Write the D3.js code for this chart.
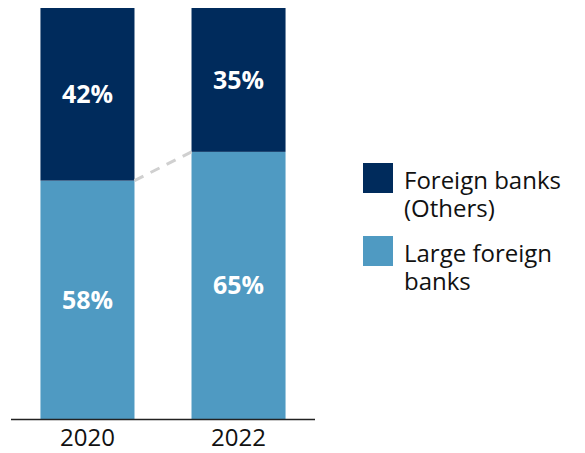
<!DOCTYPE html>
<html>
<head>
<meta charset="utf-8">
<script src="https://cdn.jsdelivr.net/npm/d3@7"></script>
<style>
    body { margin: 0; background: #fff; }
    svg { display: block; font-family: "Open Sans", sans-serif; }
</style>
</head>
<body>
<svg id="chart" width="585" height="453"></svg>
<script>
// Share of foreign bank assets, in percent.
var years = ['2020', '2022'];
var largeForeign = [58, 65];
var othersForeign = [42, 35];
var seriesNames = [['Foreign banks', '(Others)'], ['Large foreign', 'banks']];
var colors = ['#002b5c', '#4f9ac2'];

var svg = d3.select('#chart');

var x = d3.scaleBand()
    .domain(years)
    .range([11, 315])
    .paddingInner(0.3775)
    .paddingOuter(0.195);

var y = d3.scaleLinear()
    .domain([0, 100])
    .range([419, 8]);

var rows = years.map(function (year, i) {
    return { year: year, large: largeForeign[i], others: othersForeign[i] };
});

var stack = d3.stack().keys(['large', 'others'])(rows);

var layer = svg.selectAll('g.layer')
    .data(stack)
    .enter()
    .append('g')
    .attr('class', 'layer')
    .attr('fill', function (d) {
        return d.key === 'large' ? colors[1] : colors[0];
    });

layer.selectAll('rect')
    .data(function (d) { return d; })
    .enter()
    .append('rect')
    .attr('x', function (d) { return x(d.data.year); })
    .attr('width', x.bandwidth())
    .attr('y', function (d) { return y(d[1]); })
    .attr('height', function (d) { return y(d[0]) - y(d[1]); });

// Value labels in the middle of each segment.
layer.selectAll('text')
    .data(function (d) { return d; })
    .enter()
    .append('text')
    .attr('x', function (d) { return x(d.data.year) + x.bandwidth() / 2; })
    .attr('y', function (d) { return (y(d[0]) + y(d[1])) / 2; })
    .attr('dy', '0.36em')
    .attr('text-anchor', 'middle')
    .attr('fill', '#fff')
    .style('font-size', '25px')
    .style('font-weight', 'bold')
    .text(function (d) { return (d[1] - d[0]) + '%'; });

// Dashed connector between the segment boundaries.
svg.append('line')
    .attr('x1', x(years[0]) + x.bandwidth())
    .attr('y1', y(largeForeign[0]))
    .attr('x2', x(years[1]))
    .attr('y2', y(largeForeign[1]))
    .attr('stroke', '#d0d0d0')
    .attr('stroke-width', 3)
    .attr('stroke-dasharray', '10,8');

// Baseline axis.
var axis = svg.append('g')
    .attr('transform', 'translate(0,419)')
    .call(d3.axisBottom(x).tickSize(0).tickPadding(10));

axis.select('.domain')
    .attr('d', 'M11,0.5H315')
    .attr('stroke', '#222')
    .attr('stroke-width', 1.5);

axis.selectAll('text')
    .attr('fill', '#111')
    .style('font-size', '24px')
    .style('font-family', '"Open Sans", sans-serif');

// Legend.
var legend = svg.selectAll('g.legend')
    .data(seriesNames)
    .enter()
    .append('g')
    .attr('class', 'legend')
    .attr('transform', function (d, i) {
        return 'translate(363,' + (163 + i * 73) + ')';
    });

legend.append('rect')
    .attr('width', 30)
    .attr('height', 30)
    .attr('fill', function (d, i) { return colors[i]; });

legend.selectAll('text')
    .data(function (d) { return d; })
    .enter()
    .append('text')
    .attr('x', 41)
    .attr('y', function (d, i) { return 26 + i * 28; })
    .attr('fill', '#111')
    .style('font-size', '24px')
    .text(function (d) { return d; });
</script>
</body>
</html>
